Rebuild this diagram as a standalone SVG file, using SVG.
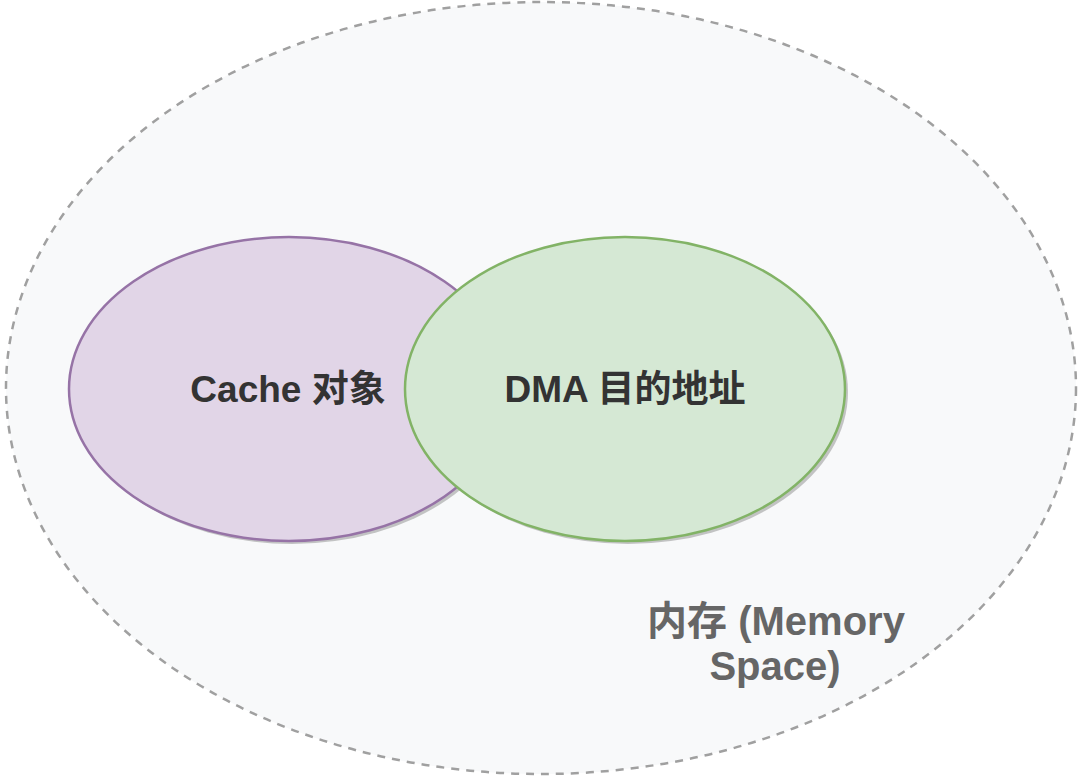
<svg xmlns="http://www.w3.org/2000/svg" width="1080" height="777" viewBox="0 0 1080 777">
<style>
.lbl{font-family:"Liberation Sans","Noto Sans CJK SC",Arial,sans-serif;font-weight:bold;text-anchor:middle}
.shadow{fill:#808080;opacity:0.45}
</style>
<rect width="1080" height="777" fill="#ffffff"/>
<g id="memory">
<ellipse cx="541" cy="388" rx="535" ry="386" fill="#f8f9fa" stroke="#a0a0a0" stroke-width="2.5" stroke-dasharray="8 7"/>
<text class="lbl" x="776" y="635" font-size="40" fill="#666666">内存 (Memory</text>
<text class="lbl" x="775" y="680" font-size="40" fill="#666666">Space)</text>
</g>
<g id="cache">
<ellipse class="shadow" cx="292" cy="392" rx="220" ry="152"/>
<ellipse cx="289" cy="389" rx="220" ry="152" fill="#e1d5e7" stroke="#9673a6" stroke-width="2.5"/>
<text class="lbl" x="288" y="402" font-size="37" fill="#333333">Cache 对象</text>
</g>
<g id="dma">
<ellipse class="shadow" cx="628" cy="392" rx="220" ry="152"/>
<ellipse cx="625" cy="389" rx="220" ry="152" fill="#d5e8d4" stroke="#82b366" stroke-width="2.5"/>
<text class="lbl" x="625" y="402" font-size="37" fill="#333333">DMA 目的地址</text>
</g>
<g id="connectors"/>
</svg>
